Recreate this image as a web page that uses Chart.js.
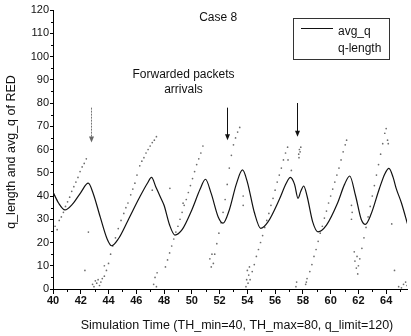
<!DOCTYPE html>
<html>
<head>
<meta charset="utf-8">
<script src="https://cdn.jsdelivr.net/npm/chart.js@4.4.1/dist/chart.umd.min.js"></script>
<style>
  html, body { margin: 0; padding: 0; background: #fff; }
  #wrap { width: 411px; height: 336px; position: relative; }
</style>
</head>
<body>
<div id="wrap"><canvas id="red-chart"></canvas></div>
<script>
// avg_q of RED (smooth curve)
const avgTime = [40.0, 40.4, 40.86, 41.4, 42.0, 42.54, 42.9, 43.4, 43.9, 44.22, 44.7, 45.4, 46.2, 46.8, 47.1,
  47.4, 47.7, 48.0, 48.4, 48.78, 49.3, 50.0, 50.6, 50.98, 51.4, 51.9, 52.25, 52.7, 53.2, 53.65,
  54.0, 54.5, 54.96, 55.5, 56.3, 56.8, 57.1, 57.4, 57.65, 57.85, 58.06, 58.3, 58.7, 59.09, 59.7,
  60.5, 61.0, 61.37, 61.8, 62.2, 62.5, 62.9, 63.5, 63.9, 64.2, 64.5, 64.72, 65.1, 65.56];
const avgQ = [41.7, 37, 34, 36.5, 41.5, 45.5, 41, 31, 21.5, 18.6, 21.5, 29.5, 39, 45.5, 48,
  44, 40, 36, 27.5, 23.2, 25.5, 34, 43, 47.2, 41, 31, 28.3, 34, 45, 51.2,
  46, 33, 26.1, 29, 38.5, 45.5, 48, 45, 39, 42, 44.3, 40, 29, 24.6, 27.5,
  37, 45, 48.6, 40, 30, 27.8, 32, 43, 49.5, 51.9, 48, 43.3, 37, 27.5];

// instantaneous queue length samples (dotted sawtooth)
const qTime = [
  40.15, 40.3, 40.45, 40.6, 40.75, 40.9, 41.05, 41.2, 41.35, 41.5, 41.65, 41.8, 41.95, 42.1, 42.25, 42.4,
  42.55, 42.3, 42.85, 42.95, 43.05, 43.15, 43.25, 43.35, 43.45, 43.55, 43.7,
  43.7, 43.85, 44.0, 44.15, 44.3, 44.5, 44.7, 44.9, 45.1, 45.25, 45.4, 45.6, 45.75, 45.9, 46.05, 46.25,
  46.4, 46.55, 46.7, 46.85, 47.0, 47.15, 47.3, 47.45,
  47.25, 47.35, 47.45, 47.5, 47.15, 48.42, 49.37,
  48.1, 48.25, 48.4, 48.55, 48.7, 48.85, 49.0, 49.15, 49.3, 49.45, 49.6, 49.75, 49.9, 50.05, 50.2, 50.35,
  50.5, 50.65, 50.8,
  51.3, 51.4, 51.45, 51.55,
  51.65, 51.8, 51.95, 52.1, 52.25, 52.4, 52.55, 52.7, 52.85, 53.0, 53.15, 53.3, 53.45,
  53.7, 53.7, 53.9, 53.95, 54.0, 54.05, 54.1, 54.15,
  54.2, 54.35, 54.5, 54.65, 54.8, 54.95, 55.1, 55.25, 55.4, 55.55, 55.7, 55.85, 56.0, 56.15, 56.3, 56.45,
  56.6, 56.75, 56.9, 56.93, 57.17,
  57.7, 57.75, 57.8, 57.85, 57.72,
  57.5, 57.55, 58.2, 58.25, 58.3,
  58.5, 58.65, 58.8, 58.95, 59.1, 59.25, 59.4, 59.55, 59.7, 59.85, 60.0, 60.15, 60.3, 60.45, 60.6, 60.75,
  60.9, 61.05, 61.15,
  61.5, 61.55, 61.5,
  61.7, 61.75, 61.85, 61.9, 61.95, 62.0,
  62.1, 62.25, 62.4, 62.55, 62.7, 62.85, 63.0, 63.15, 63.3, 63.45, 63.6, 63.75, 63.9, 64.0,
  64.1, 64.15, 64.4, 64.6,
  64.9, 65.1, 65.25, 65.4, 65.5
];
const qLength = [
  27, 25.5, 29.5, 31, 33, 35.5, 37.5, 39.5, 42, 44, 46, 48, 50.5, 52.5, 54, 56,
  24.5, 8, 2, 1, 3.5, 2.5, 4, 1.5, 3, 4.5, 10,
  5.5, 8, 11, 15, 18.5, 22, 26, 29.5, 32.5, 35, 37, 40.5, 43, 45.5, 49, 53,
  55, 56.5, 58.5, 60, 61.5, 63, 64, 65.5,
  2, 5, 1, 7, 42.5, 43.3, 36.9,
  9.5, 12.5, 15.5, 18.5, 21.5, 24.5, 27, 30, 33, 36, 38.5, 41.5, 44.5, 47.5, 50.5, 53.5,
  56, 58.5, 61.5,
  13, 9.5, 15, 11,
  15, 19.5, 24, 28.5, 33, 38.5, 45, 52, 57.5, 62, 65, 67.5, 69.5,
  36, 40, 1, 4, 8, 2.5, 6, 9.5,
  4, 7.5, 10.5, 14, 17, 20, 23, 26.5, 29.5, 32.5, 36, 39, 42.5, 46, 49, 52,
  55.5, 58.5, 61, 55.5, 51,
  58, 60, 59, 61, 56.5,
  1, 3, 2, 3, 4.5,
  7.5, 10.5, 14, 17, 20.5, 24, 27, 30.5, 33.5, 37, 40, 43, 46, 49, 52, 55.5,
  59, 62, 64,
  30, 33, 36,
  16, 12, 9, 14, 6.5, 10,
  13, 17.5, 22, 26.5, 31, 35.5, 40, 44.5, 49, 53.5, 58, 62.5, 67, 69,
  64, 62.5, 28, 8,
  1, 0.5, 2, 3, 1.5
];

const xTicks = [40, 42, 44, 46, 48, 50, 52, 54, 56, 58, 60, 62, 64];

// "Forwarded packets arrivals" arrows: time, top and tip values
const arrowTime = [42.73, 52.52, 57.55];
const arrowTop = [78, 78, 80];
const arrowTip = [63, 64, 65.5];

const avgPoints = avgTime.map((t, i) => ({ x: t, y: avgQ[i] }));
const qPoints = qTime.map((t, i) => ({ x: t, y: qLength[i] }));

const FONT = "'Liberation Sans', Arial, sans-serif";

const overlay = {
  id: 'overlay',
  afterDraw(chart) {
    const { ctx, chartArea: area, scales: { x, y } } = chart;
    ctx.save();
    ctx.strokeStyle = '#000';
    ctx.lineWidth = 1;

    // minor ticks
    ctx.beginPath();
    for (let v = 5; v < 120; v += 10) {
      const py = Math.round(y.getPixelForValue(v)) + 0.5;
      ctx.moveTo(area.left - 2, py);
      ctx.lineTo(area.left + 1, py);
    }
    for (let t = 41; t < 65.5; t += 2) {
      const px = Math.round(x.getPixelForValue(t)) + 0.5;
      ctx.moveTo(px, area.bottom);
      ctx.lineTo(px, area.bottom + 3);
    }
    ctx.stroke();

    // arrows
    arrowTime.forEach((t, i) => {
      const px = Math.round(x.getPixelForValue(t)) + 0.5;
      const y0 = y.getPixelForValue(arrowTop[i]);
      const y1 = y.getPixelForValue(arrowTip[i]);
      ctx.strokeStyle = i === 0 ? '#777' : '#111';
      ctx.fillStyle = i === 0 ? '#666' : '#111';
      ctx.setLineDash(i === 0 ? [2, 1] : []);
      ctx.beginPath();
      ctx.moveTo(px, y0);
      ctx.lineTo(px, y1 - 5);
      ctx.stroke();
      ctx.setLineDash([]);
      ctx.beginPath();
      ctx.moveTo(px - 2.5, y1 - 6);
      ctx.lineTo(px + 2.5, y1 - 6);
      ctx.lineTo(px, y1);
      ctx.closePath();
      ctx.fill();
    });

    ctx.fillStyle = '#111';
    ctx.textAlign = 'center';
    ctx.textBaseline = 'middle';
    ctx.font = '12px ' + FONT;
    ctx.fillText('Case 8', x.getPixelForValue(51.9), 18);
    ctx.fillText('Forwarded packets', x.getPixelForValue(49.4), 75);
    ctx.fillText('arrivals', x.getPixelForValue(49.4), 90);

    // axis titles
    ctx.font = '12.5px ' + FONT;
    ctx.fillText('Simulation Time (TH_min=40, TH_max=80, q_limit=120)', 237, 326);
    ctx.save();
    ctx.translate(12, 152);
    ctx.rotate(-Math.PI / 2);
    ctx.fillText('q_length and avg_q of RED', 0, 0);
    ctx.restore();

    // legend box
    ctx.font = '12px ' + FONT;
    ctx.strokeStyle = '#333';
    ctx.lineWidth = 1;
    ctx.strokeRect(293.5, 18.5, 96, 41);
    ctx.strokeStyle = '#111';
    ctx.beginPath();
    ctx.moveTo(301, 28.5);
    ctx.lineTo(333, 28.5);
    ctx.stroke();
    ctx.textAlign = 'left';
    ctx.fillText('avg_q', 338, 32);
    ctx.fillText('q-length', 338, 49);
    ctx.restore();
  }
};

new Chart(document.getElementById('red-chart'), {
  type: 'line',
  data: {
    datasets: [
      {
        label: 'avg_q',
        data: avgPoints,
        borderColor: '#111',
        borderWidth: 1.2,
        pointRadius: 0,
        cubicInterpolationMode: 'monotone',
        fill: false,
      },
      {
        label: 'q-length',
        data: qPoints,
        showLine: false,
        pointRadius: 0.85,
        pointBorderWidth: 0,
        pointBackgroundColor: 'rgba(60,60,60,0.75)',
      },
    ],
  },
  options: {
    responsive: true,
    maintainAspectRatio: false,
    animation: false,
    layout: { padding: { top: 10, right: 4, left: 0, bottom: 0 } },
    plugins: { legend: { display: false }, tooltip: { enabled: false } },
    scales: {
      x: {
        type: 'linear',
        min: 40,
        max: 65.5,
        afterFit: (scale) => { scale.height = 47; },
        afterBuildTicks: (scale) => { scale.ticks = xTicks.map((v) => ({ value: v })); },
        grid: { drawOnChartArea: false, color: '#000', tickLength: 5 },
        border: { color: '#000', width: 1 },
        ticks: {
          color: '#111',
          padding: 0,
          maxRotation: 0,
          font: { family: FONT, size: 11, weight: 'bold' },
        },
      },
      y: {
        min: 0,
        max: 120,
        afterFit: (scale) => { scale.width = 53; },
        grid: { drawOnChartArea: false, color: '#000', tickLength: 3 },
        border: { color: '#000', width: 1 },
        ticks: {
          stepSize: 10,
          color: '#111',
          padding: 1,
          font: { family: FONT, size: 11 },
        },
      },
    },
  },
  plugins: [overlay],
});
</script>
</body>
</html>
